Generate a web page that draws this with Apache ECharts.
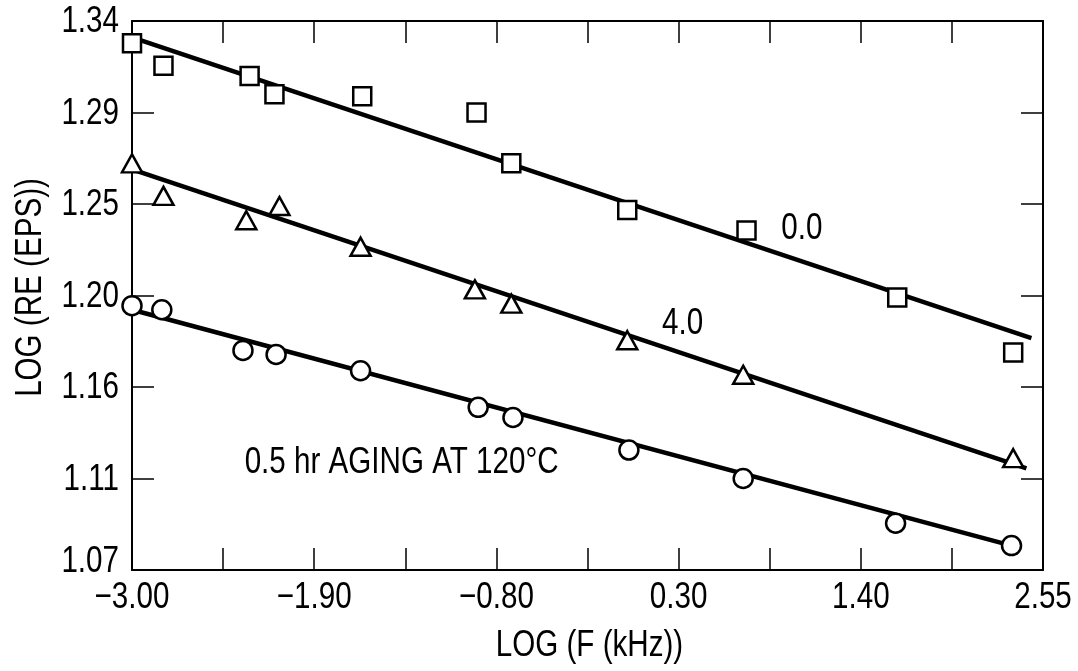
<!DOCTYPE html>
<html>
<head>
<meta charset="utf-8">
<script src="https://cdn.jsdelivr.net/npm/echarts@6/dist/echarts.min.js"></script>
<style>
html,body{margin:0;padding:0;background:#fff;}
#chart{width:1078px;height:671px;}
</style>
</head>
<body>
<div id="chart"></div>
<script>
// ---- data ----
const xMin = -3, xMax = 2.5, yMin = 1.07, yMax = 1.34;
const xTickValues = [-3, -2.45, -1.9, -1.35, -0.8, -0.25, 0.3, 0.85, 1.4, 1.95, 2.5];
const xLabelValues = [-3, -1.9, -0.8, 0.3, 1.4, 2.5];
const xLabelTexts = ['\u22123.00', '\u22121.90', '\u22120.80', '0.30', '1.40', '2.55'];
const yTickValues = [1.07, 1.115, 1.16, 1.205, 1.25, 1.295, 1.34];
const yLabelTexts = ['1.07', '1.11', '1.16', '1.20', '1.25', '1.29', '1.34'];
const xAxisTitle = 'LOG (F (kHz))';
const yAxisTitle = 'LOG (RE (EPS))';

const sqX = [-3.00, -2.81, -2.29, -2.14, -1.61, -0.92, -0.71, -0.01, 0.71, 1.62, 2.32];
const sqY = [1.329, 1.318, 1.313, 1.304, 1.303, 1.295, 1.270, 1.247, 1.237, 1.204, 1.177];
const triX = [-3.00, -2.81, -2.31, -2.11, -1.62, -0.93, -0.71, -0.01, 0.69, 2.32];
const triY = [1.270, 1.254, 1.242, 1.249, 1.229, 1.208, 1.201, 1.183, 1.166, 1.125];
const cirX = [-3.00, -2.82, -2.33, -2.13, -1.62, -0.91, -0.70, 0.00, 0.69, 1.61, 2.31];
const cirY = [1.200, 1.198, 1.178, 1.176, 1.168, 1.150, 1.145, 1.129, 1.115, 1.093, 1.082];

const sqLineX = [-3.00, 2.43];
const sqLineY = [1.332, 1.184];
const triLineX = [-3.00, 2.40];
const triLineY = [1.267, 1.120];
const cirLineX = [-3.00, 2.31];
const cirLineY = [1.198, 1.082];

const noteX = [0.92, 0.20, -2.32];
const noteY = [1.2377, 1.191, 1.1226];
const noteText = ['0.0', '4.0', '0.5 hr AGING AT 120\u00B0C'];

(function () {
// ---- build ----
const FONT = '"Liberation Sans", Arial, Helvetica, sans-serif';
const FS = 37;      // font size
const SX = 0.8;     // horizontal squeeze (condensed look)
const zip = (a, b) => a.map((v, i) => [v, b[i]]);

const chart = echarts.init(document.getElementById('chart'), null, {renderer: 'canvas'});

const tickStyle = {show: true, inside: true, length: 22, lineStyle: {color: '#000', width: 1.5}};
const lineAxis = {show: true, onZero: false, lineStyle: {color: '#000', width: 2}};
const markerStyle = {color: '#fff', borderColor: '#000', borderWidth: 2.5, opacity: 1};

function fitLine(xs, ys) {
  return {
    type: 'line', data: zip(xs, ys), symbol: 'none', z: 2, silent: true,
    lineStyle: {color: '#000', width: 4.5}
  };
}
function xAx(pos) {
  return {type: 'value', position: pos, min: xMin, max: xMax, axisLine: lineAxis,
    axisTick: Object.assign({customValues: xTickValues}, tickStyle),
    splitLine: {show: false}, axisLabel: {show: false}};
}
function yAx(pos) {
  return {type: 'value', position: pos, min: yMin, max: yMax, axisLine: lineAxis,
    axisTick: Object.assign({customValues: yTickValues}, tickStyle),
    splitLine: {show: false}, axisLabel: {show: false}};
}

const option = {
  backgroundColor: '#fff',
  animation: false,
  grid: {left: 132, right: 35, top: 21, bottom: 101, containLabel: false, outerBoundsMode: 'none'},
  xAxis: [xAx('bottom'), xAx('top')],
  yAxis: [yAx('left'), yAx('right')],
  series: [
    fitLine(sqLineX, sqLineY),
    fitLine(triLineX, triLineY),
    fitLine(cirLineX, cirLineY),
    {type: 'scatter', name: '0.0', data: zip(sqX, sqY), symbol: 'rect', symbolSize: 18, itemStyle: markerStyle, z: 5},
    {type: 'scatter', name: '4.0', data: zip(triX, triY), symbol: 'triangle', symbolSize: [20, 18], itemStyle: markerStyle, z: 5},
    {type: 'scatter', name: 'aged', data: zip(cirX, cirY), symbol: 'circle', symbolSize: 19, itemStyle: markerStyle, z: 5}
  ]
};
chart.setOption(option);

// ---- text (condensed, placed from axis scales) ----
const toPx = (x, y) => chart.convertToPixel({xAxisIndex: 0, yAxisIndex: 0}, [x, y]);
function txt(text, x, y, align, vAlign, rot) {
  return {type: 'text', x: x, y: y, scaleX: SX, rotation: rot || 0, z: 100, silent: true,
    style: {text: text, fill: '#000', fontSize: FS, fontFamily: FONT, align: align, verticalAlign: vAlign}};
}
const g = [];
const pL = toPx(xMin, yMin)[0], pB = toPx(xMin, yMin)[1];
const pR = toPx(xMax, yMax)[0], pT = toPx(xMax, yMax)[1];
xLabelValues.forEach((v, i) => {
  g.push(txt(xLabelTexts[i], toPx(v, yMin)[0], pB + 28, 'center', 'middle'));
});
yTickValues.forEach((v, i) => {
  const py = toPx(xMin, v)[1] + (i === 0 ? -8 : 1);
  g.push(txt(yLabelTexts[i], pL - 13, py, 'right', 'middle'));
});
g.push(txt(xAxisTitle, (pL + pR) / 2 + 2, pB + 76, 'center', 'middle'));
g.push(txt(yAxisTitle, pL - 101, (pT + pB) / 2 - 8, 'center', 'middle', Math.PI / 2));
noteText.forEach((t, i) => {
  const p = toPx(noteX[i], noteY[i]);
  g.push(txt(t, p[0], p[1], 'left', 'middle'));
});
chart.setOption({graphic: g});
})();
</script>
</body>
</html>
